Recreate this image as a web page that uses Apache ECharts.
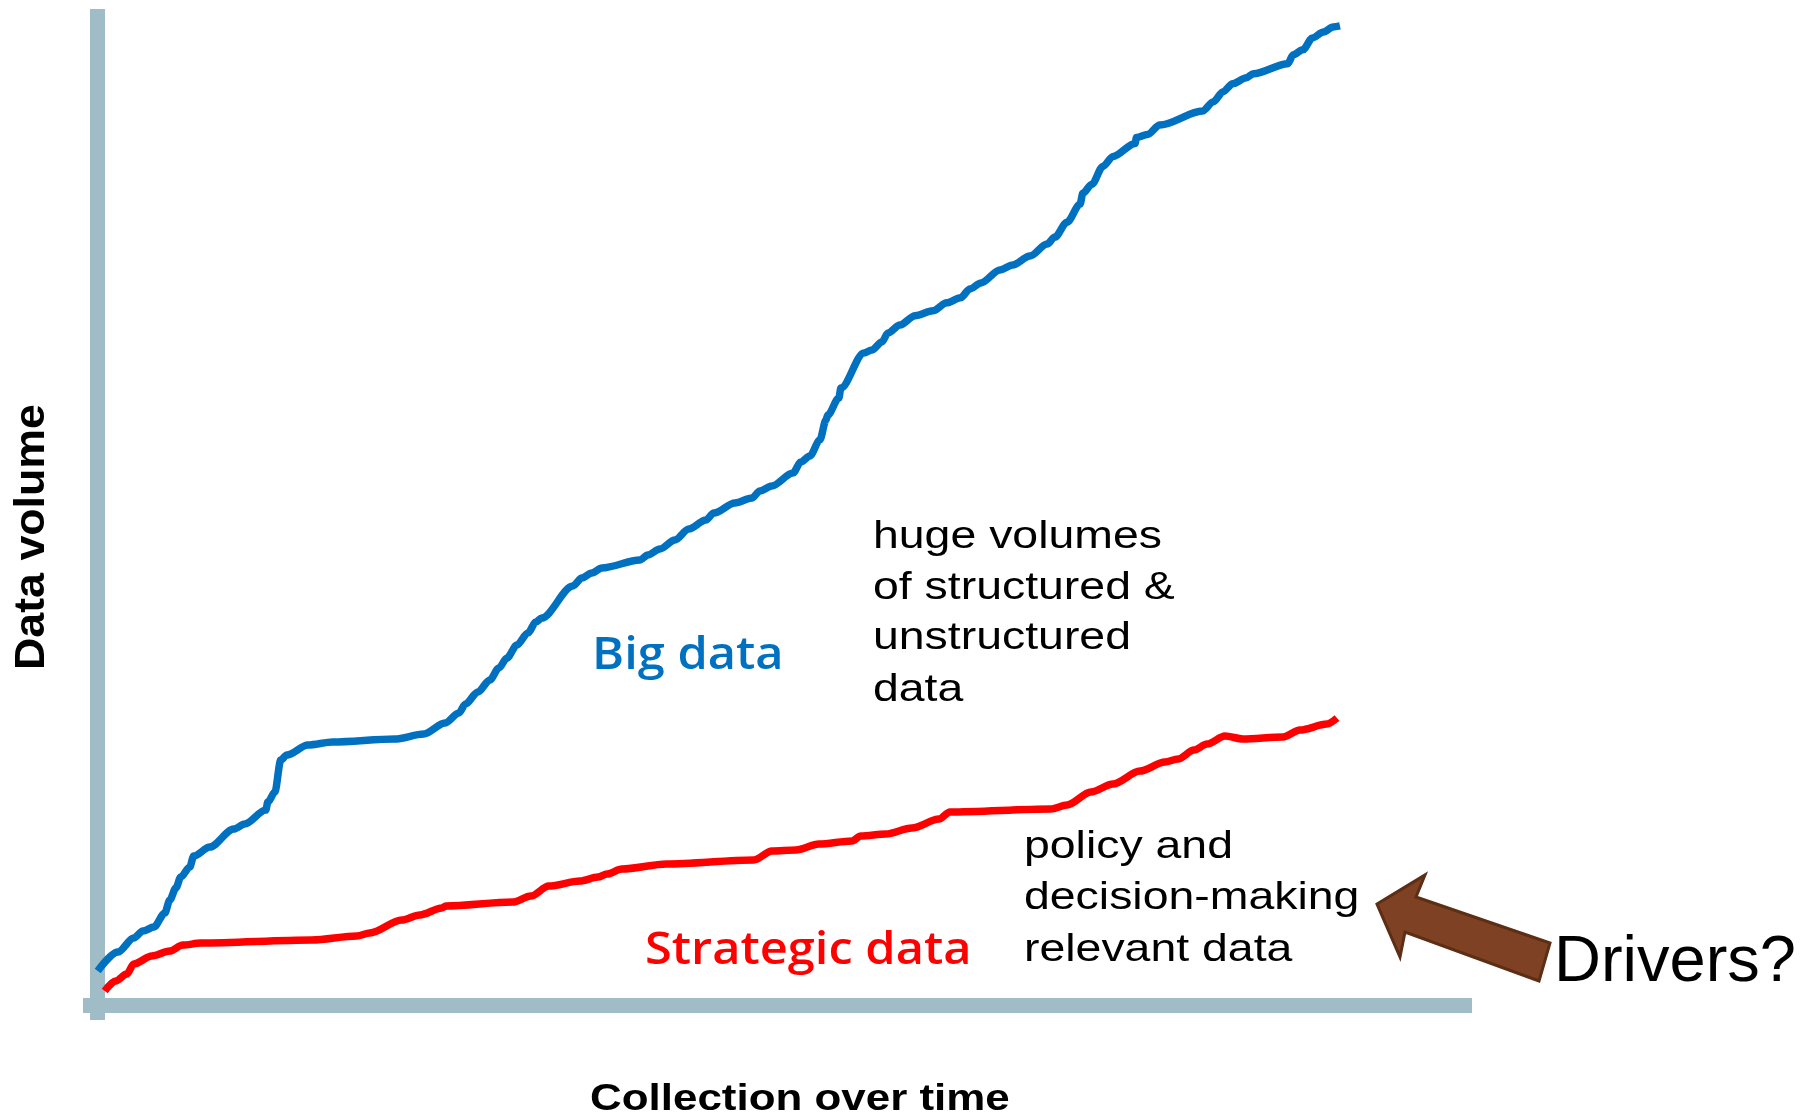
<!DOCTYPE html>
<html>
<head>
<meta charset="utf-8">
<script src="https://cdn.jsdelivr.net/npm/echarts@6/dist/echarts.min.js"></script>
<style>
  html, body { margin: 0; padding: 0; background: #ffffff; }
  #main { width: 1810px; height: 1116px; }
</style>
</head>
<body>
<div id="main"></div>
<script>
// [time, volume] (arbitrary units, 0-100)
var bigData = [
  [0.07, 3.41], [1.53, 5.32], [2.69, 6.73], [3.35, 7.43], [4.15, 7.83], [4.95, 9.24],
  [5.31, 10.54], [5.75, 11.75], [6.11, 12.85], [6.76, 13.86], [7.05, 14.96], [8.22, 15.86],
  [9.96, 17.67], [10.76, 18.17], [12.29, 19.58], [12.44, 20.38], [12.95, 21.39], [13.38, 24.6],
  [13.82, 25.1], [15.35, 26.1], [17.16, 26.41], [21.67, 26.71], [23.78, 27.21], [25.31, 28.31],
  [26.33, 29.32], [26.81, 30.22], [27.71, 31.43], [28.58, 32.63], [29.24, 33.84], [29.82, 34.84],
  [30.55, 36.14], [31.35, 37.35], [31.93, 38.45], [32.36, 38.86], [34.62, 42.07], [35.27, 42.87],
  [36.0, 43.37], [36.73, 43.88], [39.49, 44.68], [40.07, 45.18], [40.95, 45.78], [42.04, 46.69],
  [43.05, 47.79], [44.29, 48.69], [44.87, 49.4], [46.4, 50.4], [47.64, 50.9], [48.22, 51.61],
  [49.09, 52.11], [50.62, 53.41], [51.2, 54.52], [51.85, 55.12], [52.58, 56.73], [53.02, 58.73],
  [53.16, 59.24], [53.96, 60.94], [54.11, 61.95], [55.78, 65.46], [56.36, 65.76], [57.09, 66.57],
  [57.53, 67.47], [58.4, 68.27], [59.5, 69.2], [60.8, 69.7], [61.8, 70.5], [62.8, 71.0],
  [63.5, 71.9], [64.3, 72.5], [65.67, 73.8], [66.6, 74.3], [67.85, 75.2], [69.1, 76.4],
  [69.67, 77.1], [70.55, 78.6], [71.5, 80.4], [71.7, 81.5], [72.36, 82.4], [73.16, 84.2],
  [73.9, 85.2], [75.5, 86.5], [75.6, 87.1], [76.4, 87.4], [77.3, 88.35], [80.4, 89.75],
  [81.2, 90.7], [81.9, 91.7], [82.6, 92.5], [83.6, 93.1], [84.1, 93.5], [86.6, 94.5],
  [87.0, 95.4], [87.7, 95.9], [88.4, 97.1], [89.2, 97.7], [89.9, 98.2], [90.4, 98.3]
];

var strategicData = [
  [0.58, 1.41], [1.38, 2.41], [2.18, 3.11], [2.69, 4.12], [4.0, 4.92], [5.31, 5.42],
  [6.25, 6.02], [7.56, 6.22], [15.64, 6.53], [18.91, 6.93], [19.85, 7.23], [22.18, 8.53],
  [23.49, 9.04], [25.09, 9.74], [25.38, 9.94], [30.25, 10.34], [31.56, 10.94], [32.87, 11.95],
  [35.13, 12.45], [36.44, 12.85], [37.09, 13.15], [38.18, 13.65], [41.45, 14.16], [47.78, 14.56],
  [49.09, 15.46], [50.84, 15.56], [52.51, 16.16], [54.91, 16.47], [55.56, 16.97], [57.38, 17.17],
  [59.27, 17.77], [61.24, 18.67], [62.04, 19.38], [69.38, 19.68], [70.55, 20.08], [72.29, 21.39],
  [73.89, 22.19], [75.85, 23.49], [77.67, 24.4], [78.62, 24.7], [79.78, 25.6], [80.73, 26.2],
  [82.04, 27.01], [83.35, 26.71], [86.25, 26.91], [87.49, 27.61], [89.45, 28.21], [90.18, 28.82]
];

var hugeText = ['huge volumes', 'of structured &', 'unstructured', 'data'];
var policyText = ['policy and', 'decision-making', 'relevant data'];

var axisColor = '#a0bdc7';
var bodyFont = '39px "Liberation Sans", Arial, sans-serif';

var graphics = [
  // axis names
  { type: 'text', x: 32, y: 670, rotation: Math.PI / 2, scaleX: 1.065,
    style: { text: 'Data volume', font: 'bold 42px "Liberation Sans", Arial, sans-serif',
             fill: '#000', align: 'left', verticalAlign: 'middle' } },
  { type: 'text', x: 590, y: 1100, scaleX: 1.22,
    style: { text: 'Collection over time', font: 'bold 36px "Liberation Sans", Arial, sans-serif',
             fill: '#000', align: 'left', verticalAlign: 'middle' } },
  // series labels
  { type: 'text', x: 592, y: 656, scaleX: 1.06,
    style: { text: 'Big data', font: '600 46px "Open Sans", sans-serif',
             fill: '#0070c0', align: 'left', verticalAlign: 'middle' } },
  { type: 'text', x: 645, y: 951, scaleX: 1.06,
    style: { text: 'Strategic data', font: '600 46px "Open Sans", sans-serif',
             fill: '#ff0000', align: 'left', verticalAlign: 'middle' } },
  { type: 'text', x: 1554, y: 963, scaleX: 1.0,
    style: { text: 'Drivers?', font: '65px "Liberation Sans", Arial, sans-serif',
             fill: '#000', align: 'left', verticalAlign: 'middle' } },
  // arrow
  { type: 'polygon',
    shape: { points: [[1377, 904], [1425, 875], [1416, 897], [1550, 943], [1539, 981], [1405, 932], [1400, 957]] },
    style: { fill: '#7f4123', stroke: '#5c2e14', lineWidth: 3 } }
];

var hugeMid = [537, 588, 638, 690];
hugeText.forEach(function (t, i) {
  graphics.push({ type: 'text', x: 873, y: hugeMid[i], scaleX: 1.19,
    style: { text: t, font: bodyFont, fill: '#000', align: 'left', verticalAlign: 'middle' } });
});
var policyMid = [847, 898, 950];
policyText.forEach(function (t, i) {
  graphics.push({ type: 'text', x: 1024, y: policyMid[i], scaleX: 1.19,
    style: { text: t, font: bodyFont, fill: '#000', align: 'left', verticalAlign: 'middle' } });
});

var option = {
  backgroundColor: '#ffffff',
  animation: false,
  grid: { left: 83, right: 338, top: 9, bottom: 96 },
  xAxis: {
    type: 'value', min: -1, max: 100,
    axisLine: { show: true, onZero: true, lineStyle: { color: axisColor, width: 15, cap: 'butt' } },
    axisTick: { show: false }, axisLabel: { show: false }, splitLine: { show: false }
  },
  yAxis: {
    type: 'value', min: -1.5, max: 100,
    axisLine: { show: true, onZero: true, lineStyle: { color: axisColor, width: 15, cap: 'butt' } },
    axisTick: { show: false }, axisLabel: { show: false }, splitLine: { show: false }
  },
  series: [
    { name: 'Big data', type: 'line', data: bigData, showSymbol: false, symbol: 'none',
      smooth: 0.3, smoothMonotone: 'x',
      lineStyle: { color: '#0070c0', width: 7.5 } },
    { name: 'Strategic data', type: 'line', data: strategicData, showSymbol: false, symbol: 'none',
      smooth: 0.3, smoothMonotone: 'x',
      lineStyle: { color: '#ff0000', width: 7.5 } }
  ],
  graphic: graphics
};

var myChart = echarts.init(document.getElementById('main'));
myChart.setOption(option);
</script>
</body>
</html>
